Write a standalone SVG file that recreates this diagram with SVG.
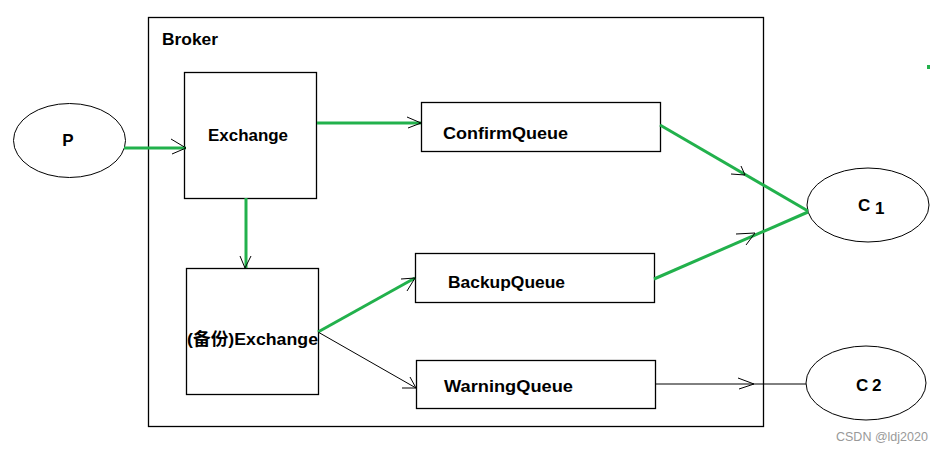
<svg xmlns="http://www.w3.org/2000/svg" width="944" height="453" viewBox="0 0 944 453">
<style>
.box{fill:none;stroke:#000;stroke-width:1.3}
.t{font-family:"Liberation Sans","Noto Sans CJK SC",sans-serif;font-weight:bold;font-size:17px;fill:#000}
.g{stroke:#22b14c;stroke-width:3;fill:none}
.k{stroke:#000;stroke-width:1;fill:none}
.ah{stroke:#000;stroke-width:1;fill:none}
</style>
<rect width="944" height="453" fill="#fff"/>
<g id="broker">
<rect class="box" x="148.5" y="17.5" width="615" height="409"/>
<text class="t" x="162" y="45" textLength="56" lengthAdjust="spacingAndGlyphs">Broker</text>
</g>
<g id="P">
<ellipse class="k" cx="69.5" cy="140.5" rx="56" ry="37"/>
<text class="t" x="68" y="146" text-anchor="middle">P</text>
</g>
<g id="exchange">
<rect class="box" x="184.5" y="72.5" width="132" height="126"/>
<text class="t" x="208" y="141" textLength="80" lengthAdjust="spacingAndGlyphs">Exchange</text>
</g>
<g id="confirmQueue">
<rect class="box" x="421.5" y="102.5" width="239" height="49"/>
<text class="t" x="443" y="139" textLength="125" lengthAdjust="spacingAndGlyphs">ConfirmQueue</text>
</g>
<g id="backupExchange">
<rect class="box" x="186.5" y="268.5" width="132" height="126"/>
<text class="t" x="187" y="345" textLength="131" lengthAdjust="spacingAndGlyphs">(备份)Exchange</text>
</g>
<g id="backupQueue">
<rect class="box" x="415.5" y="253.5" width="239" height="49"/>
<text class="t" x="448" y="288" textLength="117" lengthAdjust="spacingAndGlyphs">BackupQueue</text>
</g>
<g id="warningQueue">
<rect class="box" x="416.5" y="360.5" width="239" height="48"/>
<text class="t" x="444" y="392" textLength="129" lengthAdjust="spacingAndGlyphs">WarningQueue</text>
</g>
<g id="C1">
<ellipse class="k" cx="868" cy="205" rx="61" ry="37"/>
<text class="t" x="858" y="211">C</text>
<text class="t" x="875" y="214">1</text>
</g>
<g id="C2">
<ellipse class="k" cx="866" cy="383" rx="60" ry="37"/>
<text class="t" x="856" y="391">C</text>
<text class="t" x="872" y="391">2</text>
</g>
<g id="connectors">
<line class="g" x1="124" y1="148" x2="186" y2="148"/>
<path class="ah" d="M171,139 L186,148 L172,154"/>
<line class="g" x1="317" y1="123" x2="421" y2="123"/>
<path class="ah" d="M407,117 L421,123 L408,128"/>
<line class="g" x1="246" y1="198" x2="246" y2="268"/>
<path class="ah" d="M240,256 L245,268 L251,256"/>
<line class="g" x1="318" y1="332" x2="415" y2="278"/>
<path class="ah" d="M401,279 L415,278 L407,291"/>
<line class="k" x1="318" y1="332" x2="416" y2="388"/>
<path class="ah" d="M410,377 L416,388 L402,388"/>
<line class="g" x1="660" y1="125" x2="808" y2="211"/>
<path class="ah" d="M741,166 L745,175 L731,174"/>
<line class="g" x1="654" y1="279" x2="808" y2="212"/>
<path class="ah" d="M736,234 L755,233 L746,245"/>
<line class="k" x1="655" y1="384" x2="806" y2="384"/>
<path class="ah" d="M738,378 L754,384 L739,389"/>
</g>
<rect x="927" y="65" width="3" height="4" fill="#22b14c"/>
<text x="836" y="441" font-family="Liberation Sans,sans-serif" font-size="12.5" fill="#999">CSDN @ldj2020</text>
</svg>
